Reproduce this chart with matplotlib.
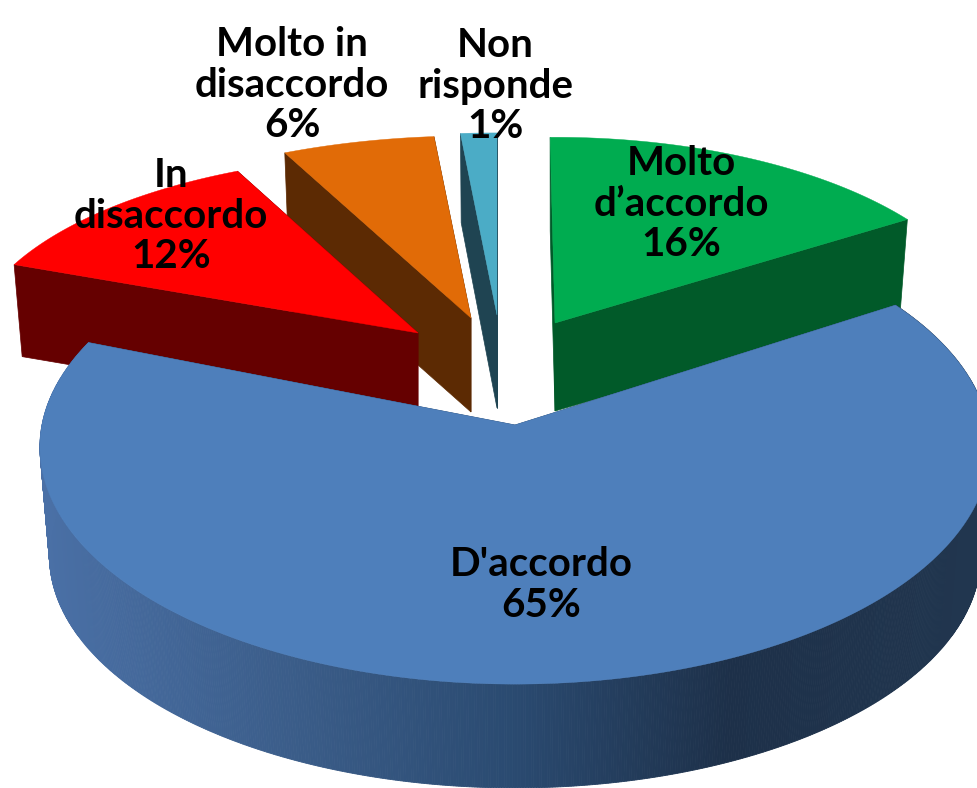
import numpy as np
import matplotlib
matplotlib.use('Agg')
import matplotlib.pyplot as plt
from matplotlib.colors import to_rgb

# slices, clockwise from the top
names = ["Molto\nd\u2019accordo", "D'accordo", "In\ndisaccordo", "Molto in\ndisaccordo", "Non\nrisponde"]
values = [16.2, 64.9, 11.9, 5.8, 1.2]

top_colors = ['#00AC50', '#4E7FBB', '#FF0000', '#E16B07', '#4BACC6']
side_colors = ['#015A29', '#2A4A70', '#650000', '#5C2A03', '#1F4452']

# pixel geometry of each exploded slice
apex_x = [555, 515, 418, 471, 497]
apex_y = [323, 425, 333, 318, 315]
rad_x = [438, 473, 448, 462, 530]
rad_y = [203, 235, 195, 199, 199]
depth = [88, 109, 91, 94, 93]
shrink_y = [0.97, 0.98, 0.985, 0.98, 1.02]
shift = [0, 0, 0, 0, -0.7]

label_x = [681, 541, 171, 292, 495]
label_y = [204, 585, 216, 85, 86]

start_angle = 90.7
persp = 0.093

# shading of the curved side of the big slice, by x position
shade_x = [40, 300, 517, 730, 978]
shade_c = ['#4A70A6', '#3A5C88', '#2A4A70', '#1D3049', '#21364F']


def project(i, theta):
    t = np.radians(theta + shift[i])
    d = 1 + persp * np.sin(t)
    return rad_x[i] * np.cos(t) / d, -rad_y[i] * np.sin(t) / d


def top_pt(i, theta):
    dx, dy = project(i, theta)
    return apex_x[i] + dx, apex_y[i] + dy


def low_pt(i, theta):
    dx, dy = project(i, theta)
    return apex_x[i] + 0.98 * dx, apex_y[i] + depth[i] + shrink_y[i] * dy


fig, ax = plt.subplots(figsize=(9.78, 7.88), dpi=100)
fig.subplots_adjust(0, 0, 1, 1)
ax.set_xlim(0, 978)
ax.set_ylim(788, 0)
ax.axis('off')
plt.rcParams['font.family'] = ['Lato', 'DejaVu Sans']

ends = start_angle - np.cumsum(values) * 3.6
starts = np.concatenate([[start_angle], ends[:-1]])

# back to front: far slices first, big one last
for i in [4, 3, 2, 0, 1]:
    th = np.linspace(starts[i], ends[i], max(int(values[i] * 12), 8))
    ax0, ay0 = apex_x[i], apex_y[i]
    bx0, by0 = ax0, ay0 + depth[i]

    # the two cut faces
    for a in (starts[i], ends[i]):
        x1, y1 = top_pt(i, a)
        x2, y2 = low_pt(i, a)
        ax.fill([ax0, x1, x2, bx0], [ay0, y1, y2, by0], color=side_colors[i], lw=0.5)

    if i == 1:
        # curved side, drawn in thin strips
        rgb = np.array([to_rgb(c) for c in shade_c])
        for a, b in zip(th[:-1], th[1:]):
            x1, y1 = top_pt(i, a)
            x2, y2 = top_pt(i, b)
            x3, y3 = low_pt(i, b)
            x4, y4 = low_pt(i, a)
            xm = (x1 + x2) / 2
            c = [np.interp(xm, shade_x, rgb[:, k]) for k in range(3)]
            ax.fill([x1, x2, x3, x4], [y1, y2, y3, y4], color=c, lw=0.6)

    xs, ys = top_pt(i, th)
    ax.fill(np.r_[ax0, xs], np.r_[ay0, ys], color=top_colors[i], lw=0.3)

for i in range(len(values)):
    pct = f"{values[i]:.0f}%"
    ax.text(label_x[i], label_y[i], names[i] + "\n" + pct, ha='center', va='center',
            fontsize=29, fontweight='bold', color='black', linespacing=1.12)

fig.savefig('out.png', dpi=100)
